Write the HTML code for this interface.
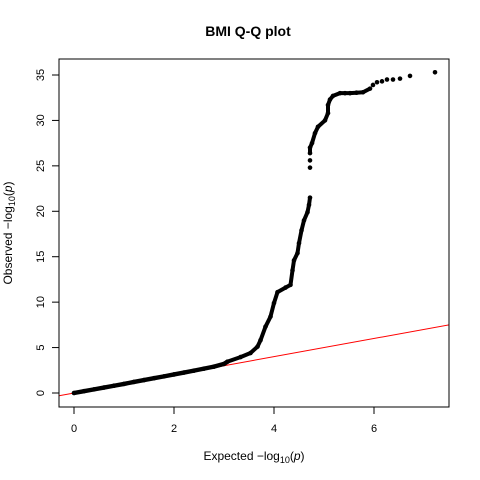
<!DOCTYPE html>
<html><head><meta charset="utf-8"><style>
body{margin:0;background:#fff}
svg{display:block;font-family:"Liberation Sans",sans-serif}
</style></head><body>
<svg id="c" width="480" height="480">
<rect width="480" height="480" fill="#fff"/>
<defs><clipPath id="clip"><rect x="59" y="59" width="390" height="348"/></clipPath></defs>
<g id="marks" clip-path="url(#clip)"></g>
<rect x="59" y="59" width="390" height="348" fill="none" stroke="#000"/>
<g id="axes"></g>
<text x="248" y="36" text-anchor="middle" font-size="14" font-weight="bold">BMI Q-Q plot</text>
<text x="254" y="460" text-anchor="middle" font-size="12">Expected  −log<tspan font-size="9" dy="3">10</tspan><tspan dy="-3">(</tspan><tspan font-style="italic">p</tspan>)</text>
<text transform="translate(12,233) rotate(-90)" text-anchor="middle" font-size="12">Observed  −log<tspan font-size="9" dy="3">10</tspan><tspan dy="-3">(</tspan><tspan font-style="italic">p</tspan>)</text>
</svg>
<script>
const expected=[0,0.2,0.4,0.6,0.8,1.0,1.2,1.4,1.6,1.8,2.0,2.2,2.4,2.6,2.8,3.0,3.07,3.33,3.53,3.67,3.73,3.83,3.93,4.0,4.07,4.23,4.33,4.37,4.4,4.47,4.5,4.55,4.6,4.67,4.7,4.72,4.72,4.72,4.72,4.72,4.76,4.82,4.88,5.02,5.08,5.08,5.12,5.18,5.32,5.42,5.52,5.65,5.78,5.92,5.98,6.06,6.16,6.26,6.38,6.52,6.72,7.22];
const observed=[0,0.2,0.4,0.6,0.8,1.0,1.22,1.42,1.63,1.83,2.04,2.25,2.46,2.68,2.9,3.2,3.45,3.95,4.4,5.1,5.8,7.3,8.4,9.9,11.1,11.6,11.9,13.5,14.6,15.4,16.5,17.9,19.0,19.9,20.7,21.5,24.8,25.6,26.4,27.0,27.5,28.6,29.3,30.0,30.8,31.7,32.3,32.7,33.0,33.0,33.0,33.05,33.1,33.5,33.9,34.2,34.3,34.5,34.5,34.6,34.9,35.3];
const xTicks=[0,2,4,6];
const yTicks=[0,5,10,15,20,25,30,35];
const X=v=>74+v*50, Y=v=>393-v*9.086;
const NS="http://www.w3.org/2000/svg";
const m=document.getElementById('marks'), ax=document.getElementById('axes');
function mk(p,tag,at){const e=document.createElementNS(NS,tag);for(const k in at)e.setAttribute(k,at[k]);p.appendChild(e);return e;}
const rl=mk(m,'line',{x1:X(-1),y1:Y(-1),x2:X(9),y2:Y(9),stroke:'#ff0000','stroke-width':1});


function seg(test,name,w){
 let p=[];for(let i=0;i<expected.length;i++)if(test(expected[i],observed[i]))p.push(X(expected[i])+','+Y(observed[i]));
 const pl=mk(m,'polyline',{points:p.join(' '),fill:'none',stroke:'#000','stroke-width':w,'stroke-linecap':'round','stroke-linejoin':'round'});
 
 
}
seg((e,o)=>e<=3.1,'dense-points',4.4);
seg((e,o)=>e>=3.0&&o<22,'dense-points-rise',4.0);
seg((e,o)=>o>=26.3&&e<=5.95,'dense-points-top',4.0);
for(let i=0;i<expected.length;i++){
 const c=mk(m,'circle',{cx:X(expected[i]),cy:Y(observed[i]),r:2.3,fill:'#000'});
 
 
}
for(const t of xTicks){
 mk(ax,'line',{x1:X(t),y1:407,x2:X(t),y2:414,stroke:'#000'});
 const tx=mk(ax,'text',{x:X(t),y:432,'text-anchor':'middle','font-size':11});tx.textContent=t;
 
 
}
for(const t of yTicks){
 mk(ax,'line',{x1:52,y1:Y(t),x2:59,y2:Y(t),stroke:'#000'});
 const tx=mk(ax,'text',{transform:`translate(44,${Y(t)}) rotate(-90)`,'text-anchor':'middle','font-size':11});tx.textContent=t;
 
 
}
</script>
</body></html>
